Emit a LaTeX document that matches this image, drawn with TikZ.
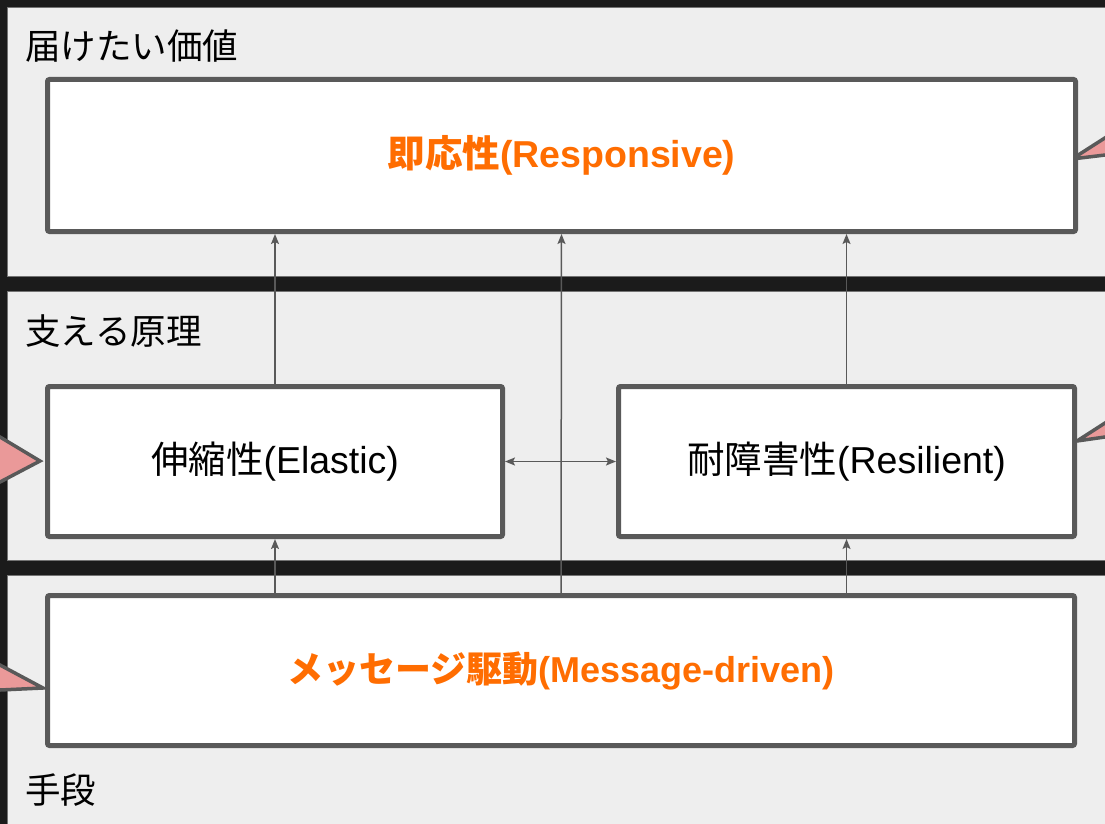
\documentclass[tikz,border=0pt]{standalone}
\usepackage{fontspec}
\setmainfont{Liberation Sans}
\newfontfamily\cjk{Noto Sans CJK JP}
\usetikzlibrary{arrows.meta}
\definecolor{barblack}{HTML}{1B1B1B}
\definecolor{panelgray}{HTML}{EEEEEE}
\definecolor{edgegray}{HTML}{595959}
\definecolor{accent}{HTML}{FF6D01}
\definecolor{calloutpink}{HTML}{EA9999}
\begin{document}
\begin{tikzpicture}[x=1pt,y=-1pt,
  panelbox/.style={fill=panelgray,draw=black!55,line width=1pt},
  mainbox/.style={draw=edgegray,line width=5pt,fill=white,rounded corners=2pt,inner sep=0pt,align=center},
  boxtext/.style={font=\fontsize{37.5}{40}\selectfont},
  hitext/.style={font=\fontsize{37.5}{40}\selectfont\bfseries,text=accent},
  paneltext/.style={anchor=base west,inner sep=0pt,font=\fontsize{35.5}{38}\selectfont\cjk},
  arr/.style={draw=edgegray,line width=1.5pt,-{Stealth[length=10pt,width=8pt,inset=2pt]}},
  darr/.style={draw=edgegray,line width=1.5pt,{Stealth[length=10pt,width=8pt,inset=2pt]}-{Stealth[length=10pt,width=8pt,inset=2pt]}},
  callout/.style={fill=calloutpink,draw=edgegray,line width=3.5pt,line join=miter}]
\useasboundingbox (0,0) rectangle (1105,824);
\clip (0,0) rectangle (1105,824);
% background and panels
\fill[barblack] (0,0) rectangle (1105,824);
\draw[panelbox] (7,8) rectangle (1120,276);
\draw[panelbox] (7,291) rectangle (1120,560);
\draw[panelbox] (7,575) rectangle (1120,840);
% panel labels
\node[paneltext] (l1) at (25,60) {届けたい価値};
\node[paneltext] (l2) at (25,344) {支える原理};
\node[paneltext] (l3) at (25,803) {手段};
% callout pointers
\draw[callout] (1072,159) -- (1140,115.5) -- (1140,150.8) -- cycle;
\draw[callout] (1077,441) -- (1140,400.5) -- (1140,432) -- cycle;
\draw[callout] (40,461) -- (-30,419) -- (-30,497.8) -- cycle;
\draw[callout] (43,688) -- (-30,649) -- (-30,691.4) -- cycle;
% boxes
\node[mainbox,hitext,minimum width=1028pt,minimum height=152pt] (resp) at (561.5,155.5) {\raisebox{-3pt}{{\cjk 即応性}(Responsive)}};
\node[mainbox,boxtext,minimum width=455pt,minimum height=150pt] (el) at (275,461.5) {\raisebox{-2pt}{{\cjk 伸縮性}(Elastic)}};
\node[mainbox,boxtext,minimum width=456pt,minimum height=150pt] (rs) at (846.5,461.5) {\raisebox{-2pt}{{\cjk 耐障害性}(Resilient)}};
\node[mainbox,hitext,font=\fontsize{36}{40}\selectfont\bfseries,minimum width=1027pt,minimum height=150pt] (msg) at (561,670.5) {\raisebox{-1pt}{{\cjk メッセージ駆動}(Message-driven)}};
% connectors
\draw[arr] (msg.north -| el.south) -- (el.south);
\draw[arr] (el.north) -- (el.north |- resp.south);
\draw[arr] (msg.north) -- (resp.south);
\draw[arr] (msg.north -| rs.south) -- (rs.south);
\draw[arr] (rs.north) -- (rs.north |- resp.south);
\draw[darr] (el.east) -- (rs.west);
\end{tikzpicture}
\end{document}
